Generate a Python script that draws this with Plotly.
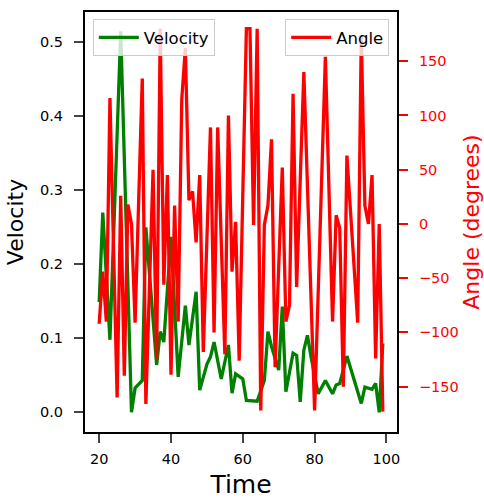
import plotly.graph_objects as go

# Velocity series (time, value)
time_velocity = [20, 21, 23, 26, 29, 30, 32, 33, 36, 37, 38, 40, 42, 44, 45, 47, 48, 50, 51, 52,
                 54, 56, 57, 58, 60, 61, 64, 66, 67, 68, 70, 71, 72, 74, 75, 76, 77, 78, 79, 81,
                 83, 85, 86, 87, 89, 93, 94, 96, 97, 98, 99]
velocity = [0.149, 0.27, 0.098, 0.515, 0.0, 0.033, 0.043, 0.25, 0.064, 0.109, 0.095, 0.237, 0.048,
            0.144, 0.091, 0.163, 0.03, 0.065, 0.075, 0.095, 0.045, 0.091, 0.026, 0.052, 0.045,
            0.016, 0.015, 0.043, 0.109, 0.089, 0.057, 0.143, 0.028, 0.08, 0.077, 0.014, 0.084,
            0.104, 0.075, 0.025, 0.043, 0.025, 0.037, 0.039, 0.076, 0.012, 0.034, 0.031, 0.039,
            0.0, 0.093]

# Angle series (time, degrees)
time_angle = [20, 21, 22, 23, 25, 26, 27, 28, 29, 30, 32, 33, 35, 36, 37, 38, 39, 40, 41, 42,
              43, 44, 45, 46, 47, 48, 49, 51, 52, 53, 55, 56, 57, 58, 59, 61, 62, 63, 64, 65,
              66, 67, 68, 69, 71, 72, 73, 74, 75, 77, 80, 83, 85, 86, 87, 88, 89, 92, 93, 94,
              95, 96, 97, 98, 99]
angle = [-92, -44, -90, 116, -160, 26, -140, 18, 0, -91, 134, -166, 50, -125, 180, -56, 45, -139,
         17, -90, 115, 162, 22, 30, -17, 45, -118, 89, -100, 89, -120, 100, -44, 2, -126, 180,
         180, -1, 180, -172, -1, 17, 78, -132, 52, -90, -75, 120, -58, 140, -172, 154, -90, 8,
         -4, -150, 63, -91, 174, 17, 0, 45, -124, 0, -173]

x_ticks = [20, 40, 60, 80, 100]
v_ticks = [0.0, 0.1, 0.2, 0.3, 0.4, 0.5]
a_ticks = [-150, -100, -50, 0, 50, 100, 150]

FONT = "DejaVu Sans"
TICK = 14.5

fig = go.Figure()
fig.add_trace(go.Scatter(x=time_velocity, y=velocity, mode="lines", name="Velocity",
                         line=dict(color="green", width=3.3), legend="legend"))
fig.add_trace(go.Scatter(x=time_angle, y=angle, mode="lines", name="Angle",
                         line=dict(color="red", width=3.3), yaxis="y2", legend="legend2"))

fig.update_layout(
    width=484, height=502,
    showlegend=True,
    margin=dict(l=85, r=87, t=12, b=70, autoexpand=False),
    plot_bgcolor="white", paper_bgcolor="white",
    font=dict(family=FONT, size=TICK, color="black"),
    xaxis=dict(range=[16.05, 102.95], tickvals=x_ticks, ticks="outside", ticklen=9, tickwidth=1.8,
               showgrid=False, zeroline=False, showline=True, linecolor="black", linewidth=2,
               mirror=True, automargin=False, ticklabelstandoff=4,
               title=dict(text="Time", font=dict(size=25), standoff=9),
               tickfont=dict(size=TICK)),
    yaxis=dict(range=[-0.0266, 0.541], tickvals=v_ticks, tickformat=".1f", ticks="outside",
               ticklen=9, tickwidth=1.8, showgrid=False, zeroline=False, showline=True,
               linecolor="black", linewidth=2, automargin=False, ticklabelstandoff=8,
               title=dict(text="Velocity", font=dict(size=22), standoff=10),
               tickfont=dict(size=TICK)),
    yaxis2=dict(range=[-191.8, 195.4], tickvals=a_ticks, overlaying="y", side="right",
                ticks="outside", ticklen=9, tickwidth=1.8, tickcolor="red",
                tickfont=dict(size=TICK, color="red"), showgrid=False, zeroline=False,
                showline=True, linecolor="black", linewidth=2, automargin=False,
                ticklabelstandoff=8,
                title=dict(text="Angle (degrees)", font=dict(size=22, color="red"), standoff=26)),
    legend=dict(x=0.025, y=0.983, xanchor="left", yanchor="top", bgcolor="rgba(255,255,255,0.8)",
                bordercolor="#cccccc", borderwidth=1, font=dict(size=16.5), itemwidth=40),
    legend2=dict(x=0.975, y=0.983, xanchor="right", yanchor="top", bgcolor="rgba(255,255,255,0.8)",
                 bordercolor="#cccccc", borderwidth=1, font=dict(size=16.5), itemwidth=40),
)

fig.write_html("out.html", config={"displayModeBar": False},
               post_script="document.body.style.margin='0px';")
